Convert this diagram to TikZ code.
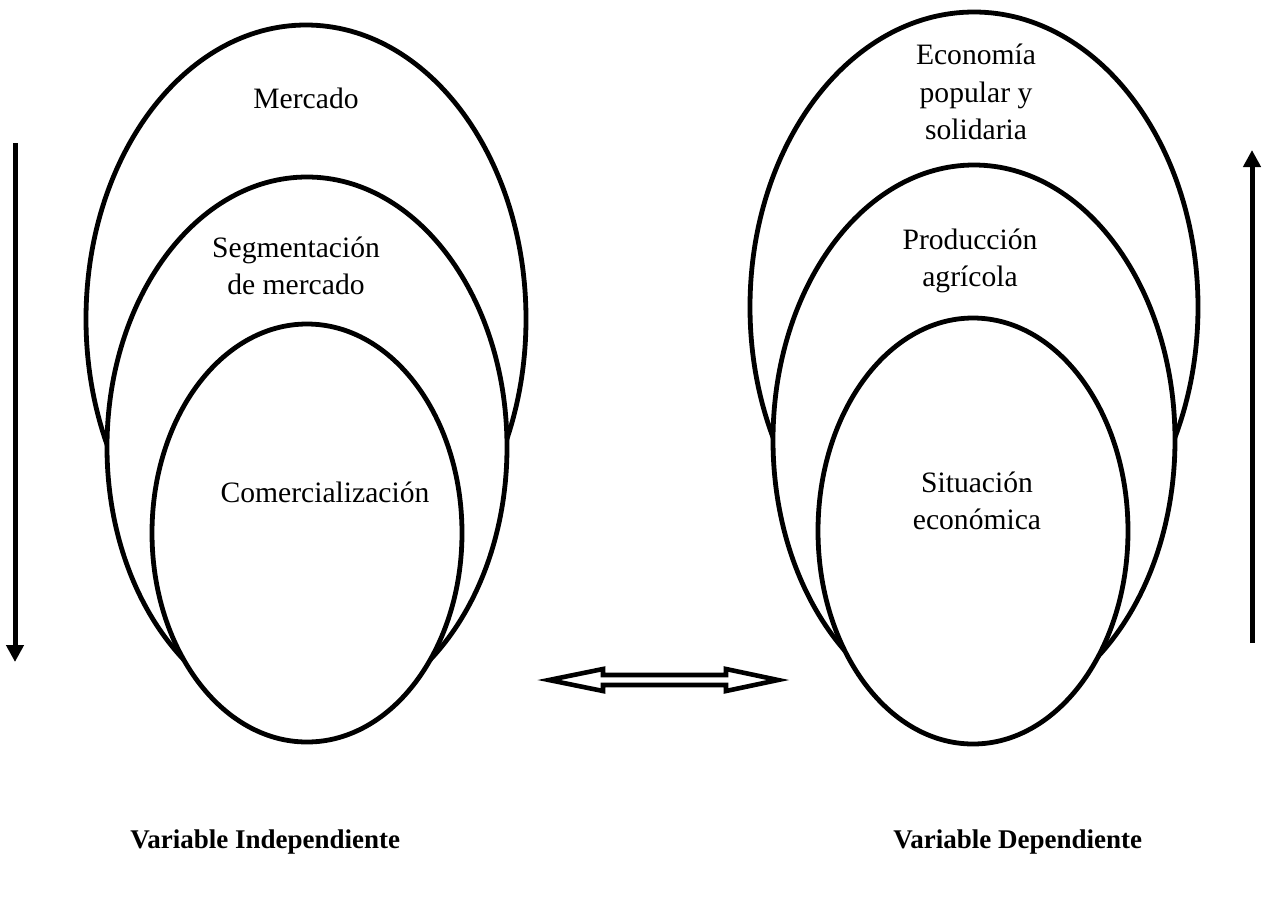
\documentclass[tikz,border=0pt]{standalone}
\usepackage{fontspec}
\setmainfont{Liberation Serif}
\usetikzlibrary{arrows.meta}
\begin{document}
\begin{tikzpicture}[x=0.5pt,y=-0.5pt,
  ring/.style={draw=black,line width=2.4pt,fill=white},
  lbl/.style={align=center,font=\fontsize{14.8}{18.8}\selectfont,inner sep=0pt},
  title/.style={font=\fontsize{13.5}{16}\selectfont\bfseries,inner sep=0pt,anchor=west},
  flow/.style={line width=2.5pt,-{Triangle[width=8.5pt,length=8.5pt]}}]
\useasboundingbox (0,0) rectangle (1275,896);

% left set: independent variable
\path[ring] (306,319) ellipse [x radius=220,y radius=294];
\path[ring] (307,447) ellipse [x radius=200,y radius=270];
\path[ring] (307,533) ellipse [x radius=155,y radius=209];
\node[lbl] (mercado) at (306,98) {Mercado};
\node[lbl] (segm) at (296,266) {Segmentación\\de mercado};
\node[lbl] (comer) at (325,492) {Comercialización};

% right set: dependent variable
\path[ring] (974,307) ellipse [x radius=224,y radius=295];
\path[ring] (974,440) ellipse [x radius=201,y radius=275];
\path[ring] (973,531) ellipse [x radius=155,y radius=213];
\node[lbl] (eco) at (976,92) {Economía\\popular y\\solidaria};
\node[lbl] (prod) at (970,261) {Producción\\agrícola};
\node[lbl] (sit) at (977,501) {Situación\\económica};

% direction arrows
\coordinate (ltop) at (15,143);
\coordinate (lbot) at (15,662);
\draw[flow] (ltop) -- (lbot);
\coordinate (rbot) at (1252,643);
\coordinate (rtop) at (1252,150);
\draw[flow] (rbot) -- (rtop);

% hollow double arrow between the two sets
\draw[line width=2.3pt,line join=miter,fill=white]
  (549,680) -- (603,669) -- (603,675) -- (726,675) -- (726,669) -- (778,680)
  -- (726,691) -- (726,685) -- (603,685) -- (603,691) -- cycle;

% captions
\node[title] (vi) at (130,842) {Variable Independiente};
\node[title] (vd) at (893,842) {Variable Dependiente};
\end{tikzpicture}
\end{document}
